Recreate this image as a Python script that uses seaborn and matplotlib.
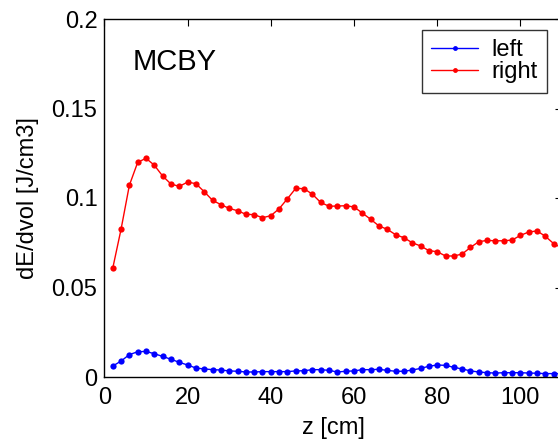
import numpy as np
import pandas as pd
import matplotlib
matplotlib.use("Agg")
import matplotlib.pyplot as plt
import seaborn as sns
from matplotlib.lines import Line2D

z = list(range(2, 112, 2))
left = [0.0061, 0.0089, 0.0125, 0.0141, 0.0143, 0.0130, 0.0115, 0.0099, 0.0082, 0.0067,
        0.0050, 0.0045, 0.0041, 0.0039, 0.0034, 0.0032, 0.0028, 0.0028, 0.0030, 0.0030,
        0.0030, 0.0030, 0.0034, 0.0035, 0.0041, 0.0041, 0.0037, 0.0028, 0.0032, 0.0034,
        0.0041, 0.0041, 0.0043, 0.0037, 0.0032, 0.0032, 0.0039, 0.0048, 0.0060, 0.0067,
        0.0065, 0.0054, 0.0045, 0.0034, 0.0028, 0.0024, 0.0022, 0.0024, 0.0024, 0.0024,
        0.0022, 0.0021, 0.0019, 0.0019, 0.0019]
right = [0.0607, 0.0825, 0.1071, 0.1199, 0.1222, 0.1183, 0.1123, 0.1078, 0.1065, 0.1089,
         0.1080, 0.1035, 0.0987, 0.0963, 0.0942, 0.0929, 0.0909, 0.0907, 0.0890, 0.0901,
         0.0940, 0.0996, 0.1054, 0.1052, 0.1021, 0.0975, 0.0954, 0.0955, 0.0957, 0.0950,
         0.0916, 0.0881, 0.0844, 0.0825, 0.0795, 0.0778, 0.0750, 0.0732, 0.0706, 0.0700,
         0.0676, 0.0676, 0.0687, 0.0724, 0.0756, 0.0763, 0.0761, 0.0761, 0.0765, 0.0791,
         0.0810, 0.0816, 0.0786, 0.0745, 0.0720]
series = ["left", "right"]
colors = ["#0000ff", "#ff0000"]
yticks = [0, 0.05, 0.1, 0.15, 0.2]
yticklabels = ["0", "0.05", "0.1", "0.15", "0.2"]
xticks = [0, 20, 40, 60, 80, 100]

df = pd.DataFrame({
    "z": z * 2,
    "val": left + right,
    "side": ["left"] * len(z) + ["right"] * len(z),
})

sns.set_style("white")
plt.rcParams["font.family"] = ["Liberation Sans", "DejaVu Sans"]
plt.rcParams["font.size"] = 17
for k in ["text.color", "axes.labelcolor", "xtick.color", "ytick.color"]:
    plt.rcParams[k] = "black"

fig = plt.figure(figsize=(5.58, 4.44), dpi=100)
W, H = 558, 444
ax = fig.add_axes([104.4 / W, (H - 377) / H, (562 - 104.4) / W, (377 - 19) / H])

sns.lineplot(data=df, x="z", y="val", hue="side", hue_order=series,
             palette=colors, marker="o", markersize=4.5, markeredgewidth=0,
             linewidth=1.0, ax=ax, legend=False)

ax.set_xlim(0, 110)
ax.set_ylim(0, 0.2)
ax.set_xticks(xticks)
ax.set_xticklabels([str(t) for t in xticks])
ax.set_yticks(yticks)
ax.set_yticklabels(yticklabels)
ax.tick_params(direction="in", length=5, width=0.8, top=True, right=True,
               labelsize=17, colors="black")
ax.tick_params(axis="x", pad=7)
ax.tick_params(axis="y", pad=5)
for s in ax.spines.values():
    s.set_visible(True)
    s.set_color("black")
    s.set_linewidth(1.0)
ax.set_xlabel("z [cm]", fontsize=17, labelpad=6)
ax.set_ylabel("dE/dvol [J/cm3]", fontsize=17, labelpad=9)
ax.text(6.9, 0.176, "MCBY", fontsize=21, va="center", ha="left")

handles = [Line2D([0], [0], color=c, marker="o", markersize=3.5, markeredgewidth=0,
                  linewidth=1.0) for c in colors]
leg = ax.legend(handles, series, loc="upper left",
                bbox_to_anchor=((421.7 - 104.4) / (562 - 104.4), 1 - (30 - 19) / (377 - 19)),
                frameon=True, fancybox=False, fontsize=17, handlelength=2.0,
                borderpad=0.4, labelspacing=0.0, handletextpad=0.55, borderaxespad=0)
leg.get_frame().set_edgecolor("black")
leg.get_frame().set_linewidth(1.0)

fig.savefig("out.png", dpi=100)
